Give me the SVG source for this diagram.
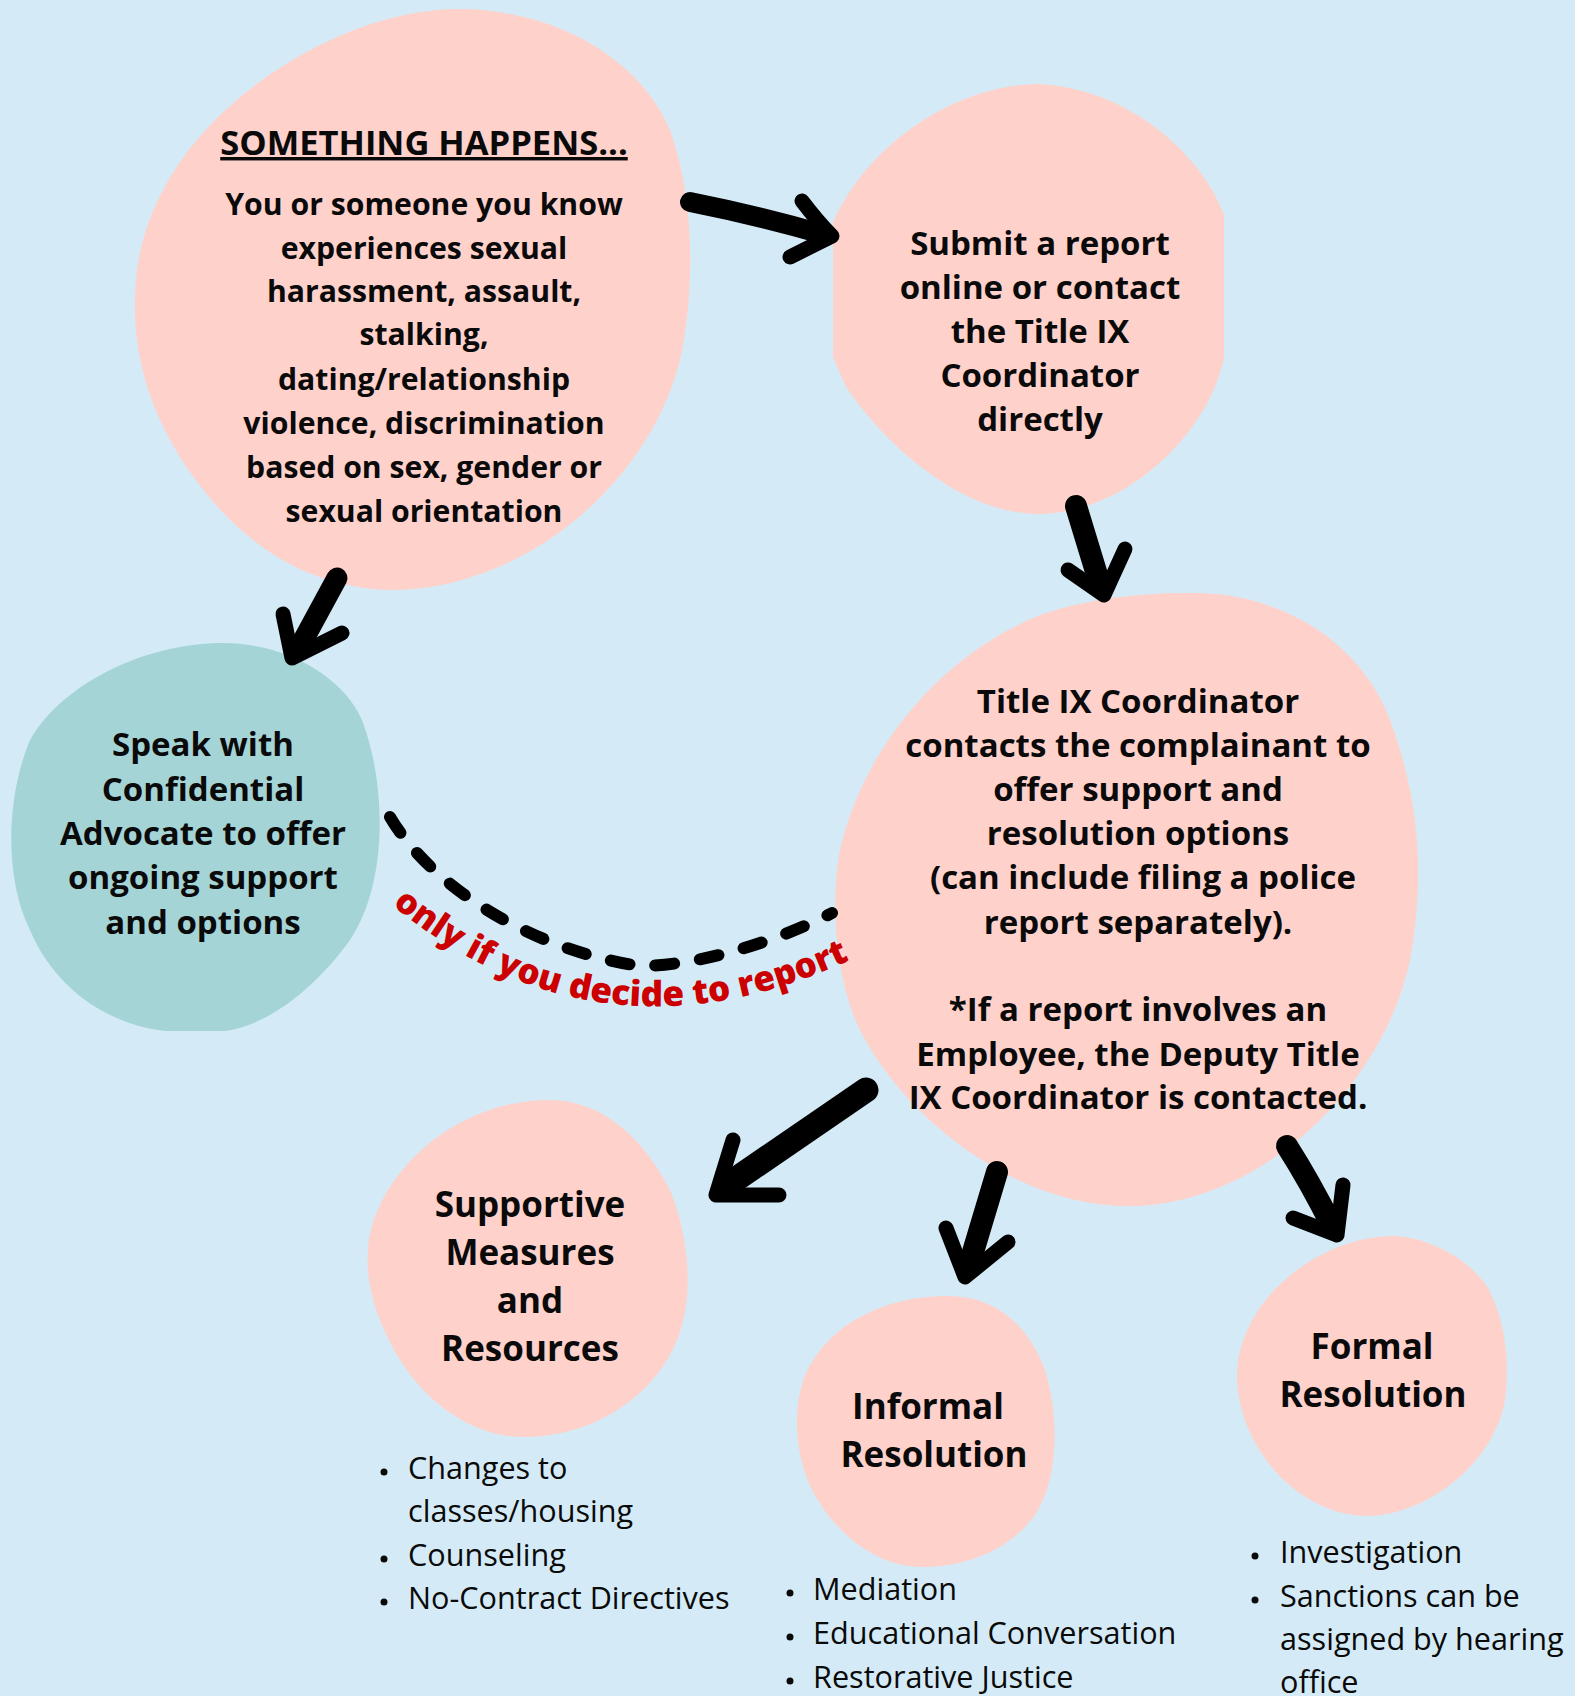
<svg xmlns="http://www.w3.org/2000/svg" width="1575" height="1696" viewBox="0 0 1575 1696">
<defs>
<style>
.bg{fill:#d4ebf7}
.pink{fill:#ffd1cb}
.teal{fill:#a5d4d7}
.t{font-family:'Open Sans','Noto Sans',sans-serif;font-weight:700;font-size:33px;fill:#0a0a0a;text-anchor:middle}
.s1{font-size:30.2px}
.title{font-size:34.5px}
.big{font-size:35px}
.li{font-family:'Open Sans','Noto Sans',sans-serif;font-weight:400;font-size:30.6px;fill:#0a0a0a}
.dot{fill:#0a0a0a}
.shaft{fill:none;stroke:#000;stroke-linecap:round;stroke-linejoin:round}
.head{fill:none;stroke:#000;stroke-width:15;stroke-linecap:round;stroke-linejoin:round}
.dash{fill:none;stroke:#000;stroke-width:12;stroke-linecap:round;stroke-dasharray:19 26}
.red{font-family:'Open Sans','Noto Sans',sans-serif;font-weight:800;font-size:35px;fill:#cc0000}
</style>
<path id="redpath" d="M 392 905 Q 600 1075 850 960"/>
</defs>
<rect class="bg" x="0" y="0" width="1575" height="1696"/>

<g id="node-something">
<path class="pink" d="M 465 9 C 560 12, 640 60, 670 130 C 695 200, 695 290, 680 360 C 650 480, 530 585, 400 590 C 290 592, 215 520, 170 440 C 140 385, 130 330, 137 270 C 150 170, 230 90, 320 45 C 370 20, 420 8, 465 9 Z"/>
<text class="t title" x="424" y="155" text-decoration="underline">SOMETHING HAPPENS...</text>
<text class="t s1" x="424" y="215">You or someone you know</text>
<text class="t s1" x="424" y="259">experiences sexual</text>
<text class="t s1" x="424" y="302">harassment, assault,</text>
<text class="t s1" x="424" y="345">stalking,</text>
<text class="t s1" x="424" y="390">dating/relationship</text>
<text class="t s1" x="424" y="434">violence, discrimination</text>
<text class="t s1" x="424" y="478">based on sex, gender or</text>
<text class="t s1" x="424" y="522">sexual orientation</text>
</g>

<g id="node-submit">
<path class="pink" d="M 1040 84 C 1130 90, 1190 150, 1215 195 L 1224 215 L 1224 357 C 1210 430, 1130 512, 1040 514 C 960 515, 880 440, 845 385 L 833 357 L 833 222 C 870 140, 960 84, 1040 84 Z"/>
<text class="t" x="1040" y="255">Submit a report</text>
<text class="t" x="1040" y="299">online or contact</text>
<text class="t" x="1040" y="343">the Title IX</text>
<text class="t" x="1040" y="387">Coordinator</text>
<text class="t" x="1040" y="431">directly</text>
</g>

<g id="node-advocate">
<path class="teal" d="M 222 643 C 290 643, 345 680, 362 720 C 385 780, 390 880, 350 940 C 310 995, 265 1025, 225 1031 L 165 1031 C 110 1025, 55 990, 30 930 C 5 880, 5 800, 30 740 C 65 680, 150 643, 222 643 Z"/>
<text class="t" x="203" y="756">Speak with</text>
<text class="t" x="203" y="801">Confidential</text>
<text class="t" x="203" y="845">Advocate to offer</text>
<text class="t" x="203" y="889">ongoing support</text>
<text class="t" x="203" y="934">and options</text>
</g>

<g id="node-coordinator">
<path class="pink" d="M 1200 593 C 1280 595, 1360 640, 1390 720 C 1420 800, 1425 880, 1410 960 C 1385 1080, 1270 1200, 1136 1206 C 1020 1210, 905 1120, 860 1030 C 835 980, 830 900, 840 850 C 860 760, 930 660, 1040 615 C 1090 597, 1150 592, 1200 593 Z"/>
<text class="t" x="1138" y="713">Title IX Coordinator</text>
<text class="t" x="1138" y="757">contacts the complainant to</text>
<text class="t" x="1138" y="801">offer support and</text>
<text class="t" x="1138" y="845">resolution options</text>
<text class="t" x="1143" y="889">(can include filing a police</text>
<text class="t" x="1138" y="934">report separately).</text>
<text class="t" x="1138" y="1021">*If a report involves an</text>
<text class="t" x="1138" y="1066">Employee, the Deputy Title</text>
<text class="t" x="1138" y="1109">IX Coordinator is contacted.</text>
</g>

<g id="node-supportive">
<path class="pink" d="M 549 1100 C 610 1100, 650 1150, 670 1190 C 690 1240, 695 1300, 675 1345 C 650 1400, 590 1437, 524 1437 C 470 1437, 425 1400, 400 1360 C 375 1320, 365 1280, 368 1250 C 372 1180, 450 1100, 549 1100 Z"/>
<text class="t big" x="530" y="1217">Supportive</text>
<text class="t big" x="530" y="1265">Measures</text>
<text class="t big" x="530" y="1313">and</text>
<text class="t big" x="530" y="1361">Resources</text>
<circle class="dot" cx="384" cy="1472" r="3.5"/>
<text class="li" x="408" y="1479">Changes to</text>
<text class="li" x="408" y="1522">classes/housing</text>
<circle class="dot" cx="384" cy="1559" r="3.5"/>
<text class="li" x="408" y="1566">Counseling</text>
<circle class="dot" cx="384" cy="1602" r="3.5"/>
<text class="li" x="408" y="1609">No-Contract Directives</text>
</g>

<g id="node-informal">
<path class="pink" d="M 947 1296 C 1000 1296, 1030 1330, 1045 1370 C 1060 1420, 1058 1480, 1035 1515 C 1010 1550, 965 1567, 922 1567 C 870 1567, 830 1525, 812 1490 C 795 1455, 792 1410, 805 1375 C 830 1320, 890 1296, 947 1296 Z"/>
<text class="t big" x="928" y="1419">Informal</text>
<text class="t big" x="934" y="1467">Resolution</text>
<circle class="dot" cx="790" cy="1593" r="3.5"/>
<text class="li" x="813" y="1600">Mediation</text>
<circle class="dot" cx="790" cy="1637" r="3.5"/>
<text class="li" x="813" y="1644">Educational Conversation</text>
<circle class="dot" cx="790" cy="1681" r="3.5"/>
<text class="li" x="813" y="1688">Restorative Justice</text>
</g>

<g id="node-formal">
<path class="pink" d="M 1393 1236 C 1430 1237, 1470 1260, 1488 1288 C 1505 1320, 1510 1360, 1505 1400 C 1495 1460, 1430 1515, 1367 1516 C 1300 1516, 1240 1450, 1237 1380 C 1235 1300, 1320 1236, 1393 1236 Z"/>
<text class="t big" x="1372" y="1359">Formal</text>
<text class="t big" x="1373" y="1407">Resolution</text>
<circle class="dot" cx="1255" cy="1556" r="3.5"/>
<text class="li" x="1280" y="1563">Investigation</text>
<circle class="dot" cx="1255" cy="1600" r="3.5"/>
<text class="li" x="1280" y="1607">Sanctions can be</text>
<text class="li" x="1280" y="1650">assigned by hearing</text>
<text class="li" x="1280" y="1693">office</text>
</g>

<g id="connectors">
<path class="shaft" stroke-width="20" d="M 690 202 Q 760 216 822 234"/>
<path class="head" d="M 802 201 Q 818 222 832 236 L 790 257"/>
<path class="shaft" stroke-width="22" d="M 1076 506 L 1101 588"/>
<path class="head" d="M 1068 570 L 1104 595 L 1125 549"/>
<path class="shaft" stroke-width="21" d="M 337 578 L 299 648"/>
<path class="head" d="M 283 614 L 292 658 L 342 633"/>
<path class="shaft" stroke-width="25" d="M 866 1090 Q 800 1135 726 1186"/>
<path class="head" stroke-width="16" d="M 733 1140 L 716 1195 L 779 1195"/>
<path class="shaft" stroke-width="22" d="M 997 1172 L 970 1262"/>
<path class="head" d="M 946 1228 L 965 1277 L 1008 1242"/>
<path class="shaft" stroke-width="22" d="M 1287 1146 Q 1310 1182 1332 1226"/>
<path class="head" d="M 1293 1218 L 1337 1235 L 1343 1185"/>
<path class="dash" d="M 390 817 C 430 885, 530 950, 640 966 C 700 966, 780 940, 832 913"/>
<text class="red"><textPath href="#redpath" startOffset="0">only if you decide to report</textPath></text>
</g>
</svg>
